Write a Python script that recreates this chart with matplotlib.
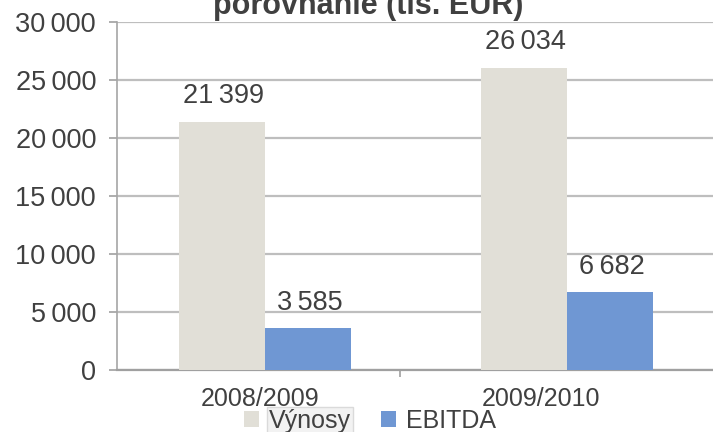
import matplotlib
matplotlib.use("Agg")
import matplotlib.pyplot as plt
import numpy as np

# data (tis. EUR)
roky = ["2008/2009", "2009/2010"]
vynosy = [21399, 26034]
ebitda = [3585, 6682]
serie = ["Výnosy", "EBITDA"]
farby = ["#E1DFD7", "#6F97D3"]

plt.rcParams['font.family'] = ['Liberation Sans', 'DejaVu Sans']
text_farba = "#404040"

def fmt(v):
    # thousands separated by a thin space, as in the original
    return format(v, ',').replace(',', '\u2009')

fig = plt.figure(figsize=(7.13, 4.32), dpi=100)
ax = fig.add_axes([0.164, 0.1435, 0.843, 0.806])

x = np.arange(len(roky))
w = 0.285
b1 = ax.bar(x - w / 2, vynosy, w, color=farby[0], label=serie[0], zorder=3)
b2 = ax.bar(x + w / 2, ebitda, w, color=farby[1], label=serie[1], zorder=3)

for bars in (b1, b2):
    for r in bars:
        v = r.get_height()
        ax.annotate(fmt(int(v)), (r.get_x() + r.get_width() / 2, v),
                    xytext=(1, 18.5), textcoords='offset points',
                    ha='center', va='center', fontsize=19.5, color=text_farba)

ax.set_xlim(-0.49, 1.5)
ax.set_ylim(0, 30000)
ax.set_yticks(range(0, 30001, 5000))
ax.set_yticklabels([fmt(t) for t in range(0, 30001, 5000)], fontsize=19.5, color=text_farba)
ax.yaxis.grid(True, color="#BEBEBE", linewidth=1.6, zorder=0)
ax.tick_params(axis='y', length=6, color="#A0A0A0", width=1.2, pad=9)

# category labels slightly left of centres, like the original
ax.set_xticks(x - np.array([0.017, 0.085]))
ax.set_xticklabels(roky, fontsize=18, color=text_farba)
ax.tick_params(axis='x', length=0, pad=12)
ax.set_xticks([0.447], minor=True)
ax.tick_params(axis='x', which='minor', length=5, color="#A0A0A0", width=1.2)

for s in ['top', 'right']:
    ax.spines[s].set_visible(False)
ax.spines['left'].set_color("#A6A6A6")
ax.spines['left'].set_linewidth(1.2)
ax.spines['bottom'].set_color("#A0A0A0")
ax.spines['bottom'].set_linewidth(1.6)

fig.text(0.516, 0.985, "porovnanie (tis. EUR)", ha='center', va='center',
         fontsize=22, fontweight='bold', color="#404040")

leg = fig.legend(loc='center', bbox_to_anchor=(0.519, 0.025), ncol=2, frameon=False,
                 fontsize=18, handlelength=0.6, handleheight=0.6, handletextpad=0.4,
                 columnspacing=1.2, labelcolor=text_farba)
leg.get_texts()[0].set_bbox(dict(facecolor="#F2F2F2", edgecolor="#DADADA", pad=1.5))

fig.savefig("out.png", dpi=100)
